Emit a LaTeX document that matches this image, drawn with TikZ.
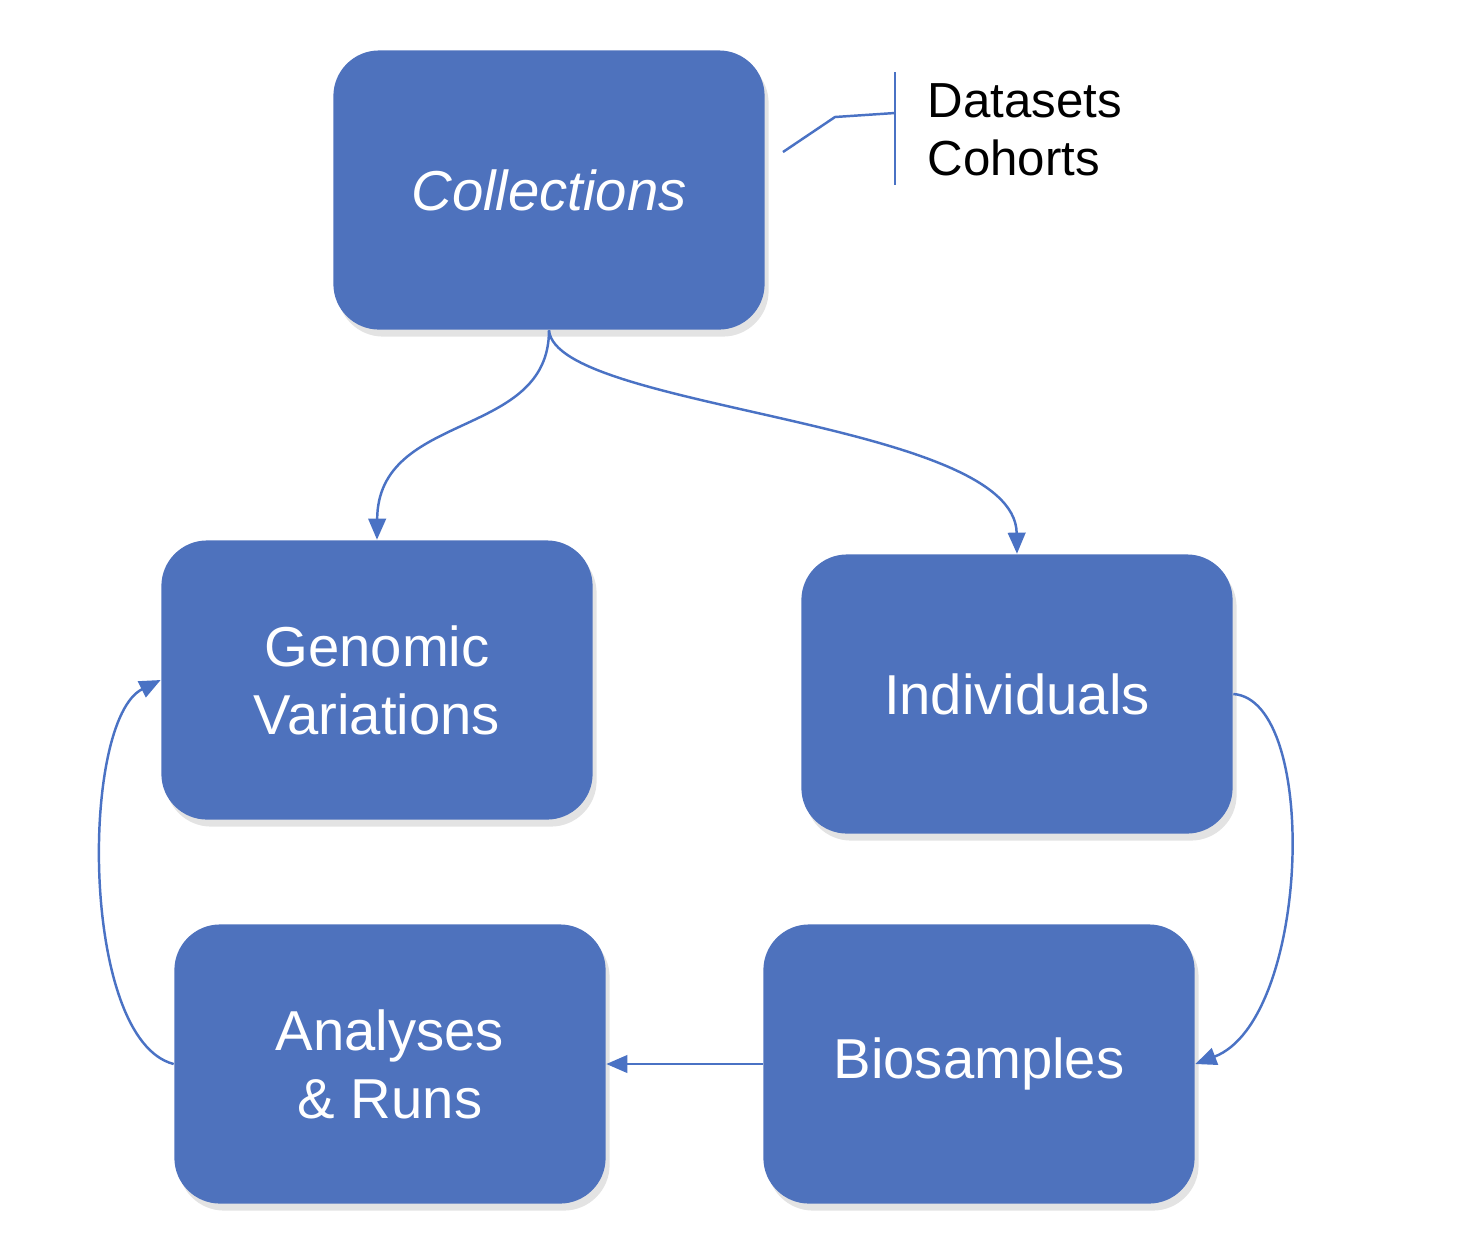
\documentclass[tikz,border=0pt]{standalone}
\usepackage{fontspec}
\setmainfont{Liberation Sans}
\usepackage{xcolor}
\usetikzlibrary{arrows.meta,shadows}
\definecolor{boxblue}{HTML}{4E72BD}
\definecolor{lineblue}{HTML}{4A72C4}

\begin{document}
\begin{tikzpicture}[
    x=0.01cm, y=-0.01cm,
    box/.style={rectangle, fill=boxblue, rounded corners=13pt, minimum width=4.31cm, minimum height=2.79cm,
        text=white, align=center, font=\fontsize{16}{19.3}\selectfont,
        drop shadow={opacity=0.22, shadow xshift=0.4mm, shadow yshift=-0.7mm}},
    arrow/.style={-{Triangle[length=6pt, width=5pt]}, lineblue, line width=0.7pt},
    label/.style={font=\fontsize{14}{16.5}\selectfont, align=left, anchor=north west, inner sep=0pt}
]
\useasboundingbox (0,0) rectangle (1462,1250);

% boxes
\node[box] (coll) at (549,190) {\itshape Collections};
\node[box] (gen) at (377,680) {Genomic\\Variations};
\node[box] (ind) at (1017,694) {Individuals};
\node[box] (ana) at (390,1064) {Analyses\\\& Runs};
\node[box] (bio) at (979,1064) {Biosamples};

% note on collections
\node[label] (kinds) at (927,83) {Datasets\\Cohorts};
\draw[lineblue, line width=0.7pt] (895,72) -- (895,185);
\draw[lineblue, line width=0.7pt] (895,113) -- (835,117) -- (783,152);

% arrows
\draw[arrow] (coll.south) .. controls (549,440) and (378,410) .. (gen.north);
\draw[arrow] (coll.south) .. controls (556,410) and (1015,420) .. (ind.north);
\draw[arrow] (ind.east) .. controls (1320,700) and (1310,1020) .. (bio.east);
\draw[arrow] (bio.west) -- (ana.east);
\draw[arrow] (ana.west) .. controls (80,1040) and (80,720) .. (gen.west);

\end{tikzpicture}
\end{document}
